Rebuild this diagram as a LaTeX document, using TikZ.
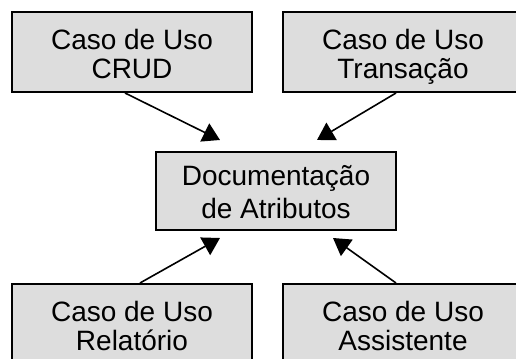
\documentclass[tikz,border=0pt]{standalone}
\usepackage{fontspec}
\setmainfont{Liberation Sans}
\usetikzlibrary{arrows.meta,calc}
\definecolor{boxfill}{RGB}{221,221,221}
\begin{document}
\begin{tikzpicture}[x=0.5pt,y=0.5pt,
                ucbox/.style={draw,line width=1pt,fill=boxfill,align=center,
                  minimum width=120pt,minimum height=40pt,inner sep=0pt,
                  font=\fontsize{14}{14.5}\selectfont},
                uclink/.style={line width=0.8pt,-{Triangle[length=8.5pt,width=10pt]}}]
                \useasboundingbox (0,0) rectangle (516,359);
                \clip (0,0) rectangle (516,359);

                % Drawing box Documentacao de Atributos
                \node (doc) at (276,168) [ucbox,minimum height=39pt,font=\fontsize{14}{16.5}\selectfont]
                  {\rule{0pt}{15pt}Documenta\c{c}\~ao\\de Atributos\rule[-3.5pt]{0pt}{3.5pt}};

                % Drawing use case boxes
                \node (crud) at (132,307) [ucbox] {\rule{0pt}{16pt}Caso de Uso\\CRUD\rule[-3.5pt]{0pt}{3.5pt}};
                \node (trans) at (403,307) [ucbox] {\rule{0pt}{16pt}Caso de Uso\\Transa\c{c}\~ao\rule[-3.5pt]{0pt}{3.5pt}};
                \node (rel) at (132,35) [ucbox] {\rule{0pt}{16pt}Caso de Uso\\Relat\'orio\rule[-3.5pt]{0pt}{3.5pt}};
                \node (assist) at (403,35) [ucbox] {\rule{0pt}{16pt}Caso de Uso\\Assistente\rule[-3.5pt]{0pt}{3.5pt}};

                % Marking arrow tips near doc
                \coordinate (tipcrud) at ($(doc.north)+(-56,11)$);
                \coordinate (tiptrans) at ($(doc.north)+(41,11)$);
                \coordinate (tiprel) at ($(doc.south)+(-56,-7)$);
                \coordinate (tipassist) at ($(doc.south)+(57,-7)$);

                % Drawing arrows
                \draw [uclink] ($(crud.south)+(-7,0)$) -- (tipcrud);
                \draw [uclink] ($(trans.south)+(-7,0)$) -- (tiptrans);
                \draw [uclink] ($(rel.north)+(8,0)$) -- (tiprel);
                \draw [uclink] ($(assist.north)+(-7,0)$) -- (tipassist);
\end{tikzpicture}
\end{document}
